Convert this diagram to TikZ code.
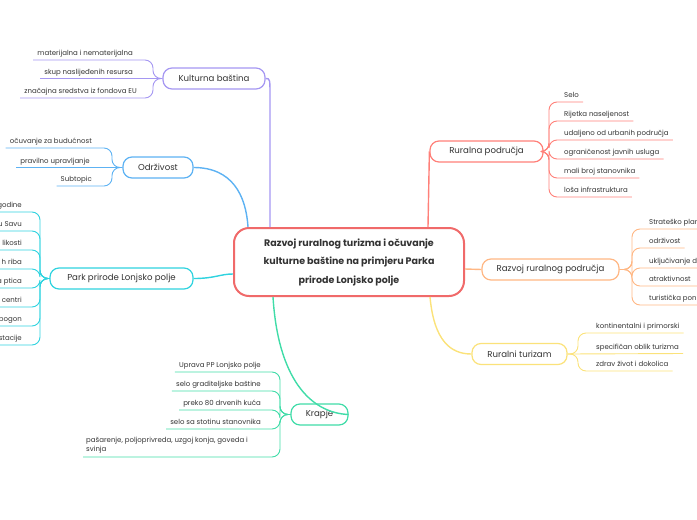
\documentclass[tikz,border=0pt]{standalone}
\usepackage{fontspec}
\setmainfont{Poppins}
\usetikzlibrary{calc}
\definecolor{txt}{HTML}{333333}
\definecolor{cred}{HTML}{F06A6A}
\definecolor{kbcol}{HTML}{A597F2}
\definecolor{odcol}{HTML}{5DB2F3}
\definecolor{ppcol}{HTML}{2FD3DF}
\definecolor{rpcol}{HTML}{FF8079}
\definecolor{rrcol}{HTML}{FFB784}
\definecolor{rtcol}{HTML}{FBE27A}
\definecolor{krcol}{HTML}{40DCA8}
\begin{document}
\begin{tikzpicture}[x=1pt,y=-1pt,
  topic/.style={draw, line width=1.2pt, rounded corners=9pt, fill=white,
    font=\fontsize{8.6}{10}\selectfont, text=txt, inner sep=0pt, minimum height=21pt},
  leaf/.style={font=\fontsize{7}{8}\selectfont, text=txt, inner xsep=4pt, inner ysep=2.5pt,
    text height=5pt, text depth=1.7pt},
  leafL/.style={leaf, anchor=south east},
  leafR/.style={leaf, anchor=south west},
  twig/.style={line width=0.9pt, rounded corners=8pt},
  bough/.style={line width=1.4pt},
]
\useasboundingbox (0,0) rectangle (697,520);
\clip (0,0) rectangle (697,520);

% ---- central node
\node[draw=cred, line width=2pt, rounded corners=15pt, fill=white,
  minimum width=230pt, minimum height=68pt, align=center, text=txt,
  font=\bfseries\fontsize{9.5}{18.5}\selectfont] (c) at (349,262)
  {Razvoj ruralnog turizma i očuvanje\\kulturne baštine na primjeru Parka\\prirode Lonjsko polje};

% ---- topics
\node[topic, draw=kbcol, minimum width=102pt] (kb) at (214,78.5) {Kulturna baština};
\node[topic, draw=odcol, minimum width=70pt] (od) at (158,167.5) {Održivost};
\node[topic, draw=ppcol, minimum width=143pt] (pp) at (121.5,278.5) {Park prirode Lonjsko polje};
\node[topic, draw=rpcol, minimum width=113pt] (rp) at (486.5,151.5) {Ruralna područja};
\node[topic, draw=rrcol, minimum width=137pt] (rr) at (550.5,269.5) {Razvoj ruralnog područja};
\node[topic, draw=rtcol, minimum width=95pt] (rt) at (519.5,354) {Ruralni turizam};
\node[topic, draw=krcol, minimum width=57pt] (kr) at (319.5,414.5) {Krapje};

% ---- main connectors
\coordinate (kbdrop) at (270,96);
\draw[bough, kbcol] (kb.east) .. controls (270,78.5) .. (kbdrop) -- (kbdrop |- c.north);
\draw[bough, odcol] (od.east) .. controls (232,167.5) and (246,195) .. ([xshift=15pt]c.north west);
\draw[bough, ppcol] (pp.east) .. controls (215,278.5) and (220,274) .. ([yshift=-12pt]c.west);
\coordinate (rpfoot) at ([xshift=79pt]c.north);
\draw[bough, rpcol] (rpfoot) -- (rp.west);
\draw[bough, rrcol] ([yshift=-7pt]c.east) -- (rr.west);
\coordinate (rtfoot) at ([xshift=81pt]c.south);
\draw[bough, rtcol] (rtfoot) .. controls (434,340) and (450,354) .. (rt.west);
\coordinate (krfoot) at ([xshift=-76pt]c.south);
\draw[bough, krcol] (krfoot) .. controls (278,378) and (310,413) .. (kr.east);

% ---- Kulturna bastina leaves
\node[leafL] (kb1) at (137,60) {materijalna i nematerijalna};
\node[leafL] (kb2) at (137,78.5) {skup naslijeđenih resursa};
\node[leafL] (kb3) at (141,98) {značajna sredstva iz fondova EU};
\coordinate (kbs) at (153,78.5);
\draw[twig, kbcol] (kb.west) -- (kbs) |- (kb1.south west);
\draw[twig, kbcol] (kb.west) -- (kb2.south west);
\draw[twig, kbcol] (kb.west) -- (kbs) |- (kb3.south west);

% ---- Odrzivost leaves
\node[leafL] (od1) at (96,148) {očuvanje za budućnost};
\node[leafL] (od2) at (94,167.5) {pravilno upravljanje};
\node[leafL] (od3) at (96,186) {Subtopic};
\coordinate (ods) at (112,167.5);
\draw[twig, odcol] (od.west) -- (ods) |- (od1.south west);
\draw[twig, odcol] (od.west) -- (od2.south west);
\draw[twig, odcol] (od.west) -- (ods) |- (od3.south west);

% ---- Park prirode leaves (cut by the left edge)
\coordinate (pps) at (40,278.5);
\foreach \n/\y/\t in {1/212/godine, 2/231/u Savu, 3/250/likosti, 4/269/h riba,
                      5/288/a ptica, 6/307/centri, 7/326/pogon, 8/345/stacije}{
  \node[leafL] (pp\n) at (26,\y) {\t};
  \draw[twig, ppcol] (pp.west) -- (pps) |- (pp\n.south west) -- ++(-40,0);
}

% ---- Krapje leaves
\node[leafL] (kr1) at (265,372) {Uprava PP Lonjsko polje};
\node[leafL] (kr2) at (265,391) {selo graditeljske baštine};
\node[leafL] (kr3) at (265,410) {preko 80 drvenih kuća};
\node[leafL] (kr4) at (265,429) {selo sa stotinu stanovnika};
\node[font=\fontsize{7}{9.5}\selectfont, text=txt, anchor=south west, align=left,
  inner xsep=3pt, inner ysep=3pt] (kr5) at (83,457)
  {pašarenje, poljoprivreda, uzgoj konja, goveda i\\svinja};
\coordinate (krs) at (280,414.5);
\foreach \n in {1,2,3,4,5}{
  \draw[twig, krcol] (kr.west) -- (krs) |- (kr\n.south west);
}

% ---- Ruralna podrucja leaves
\node[leafR] (rp1) at (560,102) {Selo};
\node[leafR] (rp2) at (560,121) {Rijetka naseljenost};
\node[leafR] (rp3) at (560,140) {udaljeno od urbanih područja};
\node[leafR] (rp4) at (560,159) {ograničenost javnih usluga};
\node[leafR] (rp5) at (560,178) {mali broj stanovnika};
\node[leafR] (rp6) at (560,197) {loša infrastruktura};
\coordinate (rps) at (549,151.5);
\foreach \n in {1,...,6}{
  \draw[twig, rpcol] (rp.east) -- (rps) |- (rp\n.south east);
}

% ---- Razvoj ruralnog podrucja leaves (cut by the right edge)
\node[leafR] (rr1) at (645,229) {Strateško plan};
\node[leafR] (rr2) at (645,248) {održivost};
\node[leafR] (rr3) at (645,268) {uključivanje d};
\node[leafR] (rr4) at (645,286) {atraktivnost};
\node[leafR] (rr5) at (645,305) {turistička pon};
\coordinate (rrs) at (632,269.5);
\draw[twig, rrcol] (rr.east) -- (rrs) |- (rr1.south east) -- ++(40,0);
\draw[twig, rrcol] (rr.east) -- (rrs) |- (rr2.south east);
\draw[twig, rrcol] (rr.east) -- (rrs) |- (rr3.south east) -- ++(40,0);
\draw[twig, rrcol] (rr.east) -- (rrs) |- (rr4.south east) -- ++(40,0);
\draw[twig, rrcol] (rr.east) -- (rrs) |- (rr5.south east) -- ++(40,0);

% ---- Ruralni turizam leaves
\node[leafR] (rt1) at (592,333) {kontinentalni i primorski};
\node[leafR] (rt2) at (592,353.5) {specifičan oblik turizma};
\node[leafR] (rt3) at (592,371) {zdrav život i dokolica};
\coordinate (rts) at (578,354);
\draw[twig, rtcol] (rt.east) -- (rts) |- (rt1.south east);
\draw[twig, rtcol] (rt.east) -- (rt2.south east);
\draw[twig, rtcol] (rt.east) -- (rts) |- (rt3.south east);
\end{tikzpicture}
\end{document}
